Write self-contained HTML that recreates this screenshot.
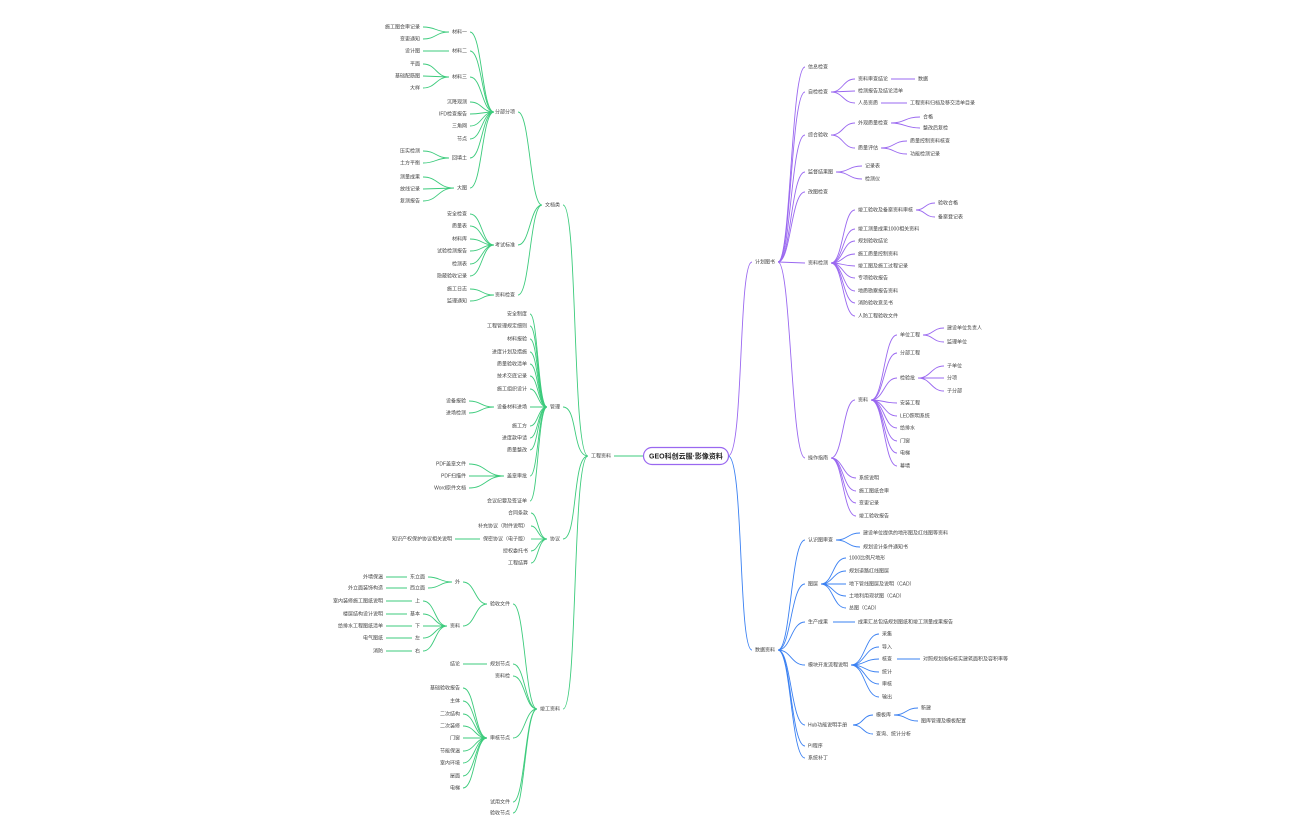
<!DOCTYPE html>
<html><head><meta charset="utf-8"><style>
html,body{margin:0;padding:0;background:#fff;}
svg{display:block}
text{font-family:"Liberation Sans","Noto Sans CJK SC",sans-serif;font-size:5px;fill:#444;dominant-baseline:middle}
.e{text-anchor:end}
.g path{stroke:#3ccb7c;stroke-width:0.9;fill:none}
.p path{stroke:#9a68f0;stroke-width:0.9;fill:none}
.b path{stroke:#3a80f2;stroke-width:0.9;fill:none}
</style></head><body>
<svg width="1296" height="840" viewBox="0 0 1296 840" xmlns="http://www.w3.org/2000/svg">
<!-- LEFT GREEN -->
<g class="g">
<path d="M643 456 L614 456"/>
<path d="M588 456 C572 456 578 205 563 205"/>
<path d="M588 456 C572 456 578 407 563 407"/>
<path d="M588 456 C572 456 578 539 563 539"/>
<path d="M588 456 C572 456 578 709 563 709"/>
<path d="M542 205 C530 205 530 112 518 112"/>
<path d="M542 205 C530 205 530 245 518 245"/>
<path d="M542 205 C530 205 530 295 518 295"/>
<path d="M494 112 C482 112 482 32 470 32"/>
<path d="M494 112 C482 112 482 51 470 51"/>
<path d="M494 112 C482 112 482 77 470 77"/>
<path d="M494 112 C482 112 482 102 470 102"/>
<path d="M494 112 C482 112 482 114 470 114"/>
<path d="M494 112 C482 112 482 126 470 126"/>
<path d="M494 112 C482 112 482 139 470 139"/>
<path d="M494 112 C482 112 482 158 470 158"/>
<path d="M494 112 C482 112 482 188 470 188"/>
<path d="M449 32 C436 32 436 27 423 27"/>
<path d="M449 32 C436 32 436 39 423 39"/>
<path d="M449 51 L423 51"/>
<path d="M449 77 C436 77 436 64 423 64"/>
<path d="M449 77 L423 76"/>
<path d="M449 77 C436 77 436 88 423 88"/>
<path d="M449 158 C436 158 436 151 423 151"/>
<path d="M449 158 C436 158 436 163 423 163"/>
<path d="M454 188 C438 188 438 177 423 177"/>
<path d="M454 188 L423 189"/>
<path d="M454 188 C438 188 438 201 423 201"/>
<path d="M494 245 C482 245 482 214 470 214"/>
<path d="M494 245 C482 245 482 226 470 226"/>
<path d="M494 245 C482 245 482 239 470 239"/>
<path d="M494 245 C482 245 482 251 470 251"/>
<path d="M494 245 C482 245 482 264 470 264"/>
<path d="M494 245 C482 245 482 276 470 276"/>
<path d="M494 295 C482 295 482 289 470 289"/>
<path d="M494 295 C482 295 482 301 470 301"/>
<path d="M547 407 C538 407 538 314 530 314"/>
<path d="M547 407 C538 407 538 326 530 326"/>
<path d="M547 407 C538 407 538 339 530 339"/>
<path d="M547 407 C538 407 538 352 530 352"/>
<path d="M547 407 C538 407 538 364 530 364"/>
<path d="M547 407 C538 407 538 376 530 376"/>
<path d="M547 407 C538 407 538 389 530 389"/>
<path d="M547 407 L530 407"/>
<path d="M547 407 C538 407 538 426 530 426"/>
<path d="M547 407 C538 407 538 438 530 438"/>
<path d="M547 407 C538 407 538 450 530 450"/>
<path d="M547 407 C538 407 538 476 530 476"/>
<path d="M547 407 C538 407 538 501 530 501"/>
<path d="M494 407 C481 407 481 401 469 401"/>
<path d="M494 407 C481 407 481 413 469 413"/>
<path d="M504 476 C486 476 486 464 469 464"/>
<path d="M504 476 L469 476"/>
<path d="M504 476 C486 476 486 488 469 488"/>
<path d="M547 539 C538 539 538 513 531 513"/>
<path d="M547 539 C538 539 538 526 531 526"/>
<path d="M547 539 L531 539"/>
<path d="M547 539 C538 539 538 551 531 551"/>
<path d="M547 539 C538 539 538 563 531 563"/>
<path d="M480 539 L455 539"/>
<path d="M537 709 C525 709 525 604 513 604"/>
<path d="M537 709 C525 709 525 664 513 664"/>
<path d="M537 709 C525 709 525 676 513 676"/>
<path d="M537 709 C525 709 525 738 513 738"/>
<path d="M537 709 C525 709 525 802 513 802"/>
<path d="M537 709 C525 709 525 813 513 813"/>
<path d="M487 604 C475 604 475 582 463 582"/>
<path d="M487 604 C475 604 475 626 463 626"/>
<path d="M452 582 C440 582 440 577 428 577"/>
<path d="M452 582 C440 582 440 588 428 588"/>
<path d="M407 577 L386 577"/><path d="M407 588 L386 588"/>
<path d="M447 626 C435 626 435 601 423 601"/>
<path d="M447 626 C435 626 435 614 423 614"/>
<path d="M447 626 L423 626"/>
<path d="M447 626 C435 626 435 638 423 638"/>
<path d="M447 626 C435 626 435 651 423 651"/>
<path d="M412 601 L386 601"/><path d="M407 614 L386 614"/><path d="M412 626 L386 626"/><path d="M412 638 L386 638"/><path d="M412 651 L386 651"/>
<path d="M487 664 L463 664"/>
<path d="M487 738 C475 738 475 688 463 688"/>
<path d="M487 738 C475 738 475 701 463 701"/>
<path d="M487 738 C475 738 475 714 463 714"/>
<path d="M487 738 C475 738 475 726 463 726"/>
<path d="M487 738 L463 738"/>
<path d="M487 738 C475 738 475 751 463 751"/>
<path d="M487 738 C475 738 475 763 463 763"/>
<path d="M487 738 C475 738 475 776 463 776"/>
<path d="M487 738 C475 738 475 788 463 788"/>
</g>
<g>
<text class="e" x="611" y="456">工程资料</text>
<text class="e" x="560" y="205">文档类</text>
<text class="e" x="560" y="407">管理</text>
<text class="e" x="560" y="539">协议</text>
<text class="e" x="560" y="709">竣工资料</text>
<text class="e" x="515" y="112">分部分项</text>
<text class="e" x="515" y="245">考试标准</text>
<text class="e" x="515" y="295">资料检查</text>
<text class="e" x="467" y="32">材料一</text>
<text class="e" x="467" y="51">材料二</text>
<text class="e" x="467" y="77">材料三</text>
<text class="e" x="467" y="102">沉降观测</text>
<text class="e" x="467" y="114">IFD检查报告</text>
<text class="e" x="467" y="126">三角网</text>
<text class="e" x="467" y="139">节点</text>
<text class="e" x="467" y="158">回填土</text>
<text class="e" x="467" y="188">大图</text>
<text class="e" x="420" y="27">施工图会审记录</text>
<text class="e" x="420" y="39">变更通知</text>
<text class="e" x="420" y="51">设计图</text>
<text class="e" x="420" y="64">平面</text>
<text class="e" x="420" y="76">基础配筋图</text>
<text class="e" x="420" y="88">大样</text>
<text class="e" x="420" y="151">压实检测</text>
<text class="e" x="420" y="163">土方平衡</text>
<text class="e" x="420" y="177">测量成果</text>
<text class="e" x="420" y="189">放线记录</text>
<text class="e" x="420" y="201">复测报告</text>
<text class="e" x="467" y="214">安全检查</text>
<text class="e" x="467" y="226">质量表</text>
<text class="e" x="467" y="239">材料库</text>
<text class="e" x="467" y="251">试验检测报告</text>
<text class="e" x="467" y="264">检测表</text>
<text class="e" x="467" y="276">隐蔽验收记录</text>
<text class="e" x="467" y="289">施工日志</text>
<text class="e" x="467" y="301">监理通知</text>
<text class="e" x="527" y="314">安全制度</text>
<text class="e" x="527" y="326">工程管理规定细则</text>
<text class="e" x="527" y="339">材料报验</text>
<text class="e" x="527" y="352">进度计划及措施</text>
<text class="e" x="527" y="364">质量验收清单</text>
<text class="e" x="527" y="376">技术交底记录</text>
<text class="e" x="527" y="389">施工组织设计</text>
<text class="e" x="527" y="407">设备材料进场</text>
<text class="e" x="527" y="426">施工方</text>
<text class="e" x="527" y="438">进度款申请</text>
<text class="e" x="527" y="450">质量整改</text>
<text class="e" x="527" y="476">盖章审批</text>
<text class="e" x="527" y="501">会议纪要及签证单</text>
<text class="e" x="466" y="401">设备报验</text>
<text class="e" x="466" y="413">进场检测</text>
<text class="e" x="466" y="464">PDF盖章文件</text>
<text class="e" x="466" y="476">PDF扫描件</text>
<text class="e" x="466" y="488">Word原件文档</text>
<text class="e" x="528" y="513">合同条款</text>
<text class="e" x="528" y="526">补充协议（附件说明）</text>
<text class="e" x="528" y="539">保密协议（电子版）</text>
<text class="e" x="528" y="551">授权委托书</text>
<text class="e" x="528" y="563">工程结算</text>
<text class="e" x="452" y="539">知识产权保护协议相关说明</text>
<text class="e" x="510" y="604">验收文件</text>
<text class="e" x="510" y="664">规划节点</text>
<text class="e" x="510" y="676">资料检</text>
<text class="e" x="510" y="738">审核节点</text>
<text class="e" x="510" y="802">试用文件</text>
<text class="e" x="510" y="813">验收节点</text>
<text class="e" x="460" y="582">外</text>
<text class="e" x="460" y="626">资料</text>
<text class="e" x="425" y="577">东立面</text>
<text class="e" x="425" y="588">西立面</text>
<text class="e" x="383" y="577">外墙保温</text>
<text class="e" x="383" y="588">外立面装饰构造</text>
<text class="e" x="420" y="601">上</text>
<text class="e" x="420" y="614">基本</text>
<text class="e" x="420" y="626">下</text>
<text class="e" x="420" y="638">左</text>
<text class="e" x="420" y="651">右</text>
<text class="e" x="383" y="601">室内装修施工图纸说明</text>
<text class="e" x="383" y="614">楼层结构设计说明</text>
<text class="e" x="383" y="626">给排水工程图纸清单</text>
<text class="e" x="383" y="638">电气图纸</text>
<text class="e" x="383" y="651">消防</text>
<text class="e" x="460" y="664">结论</text>
<text class="e" x="460" y="688">基础验收报告</text>
<text class="e" x="460" y="701">主体</text>
<text class="e" x="460" y="714">二次结构</text>
<text class="e" x="460" y="726">二次装修</text>
<text class="e" x="460" y="738">门窗</text>
<text class="e" x="460" y="751">节能保温</text>
<text class="e" x="460" y="763">室内环境</text>
<text class="e" x="460" y="776">屋面</text>
<text class="e" x="460" y="788">电梯</text>
</g>

<!-- RIGHT PURPLE -->
<g class="p">
<path d="M728 456 C744 456 738 262 752 262"/>
<path d="M778 262 C791 262 791 67 805 67"/>
<path d="M778 262 C791 262 791 92 805 92"/>
<path d="M778 262 C791 262 791 135 805 135"/>
<path d="M778 262 C791 262 791 172 805 172"/>
<path d="M778 262 C791 262 791 192 805 192"/>
<path d="M778 262 L805 263"/>
<path d="M778 262 C791 262 791 458 805 458"/>
<path d="M831 92 C843 92 843 79 855 79"/>
<path d="M831 92 L855 91"/>
<path d="M831 92 C843 92 843 103 855 103"/>
<path d="M891 79 L915 79"/>
<path d="M881 103 L907 103"/>
<path d="M831 135 C843 135 843 123 855 123"/>
<path d="M831 135 C843 135 843 148 855 148"/>
<path d="M891 123 C905 123 905 117 920 117"/>
<path d="M891 123 C905 123 905 128 920 128"/>
<path d="M881 148 C894 148 894 141 907 141"/>
<path d="M881 148 C894 148 894 154 907 154"/>
<path d="M836 172 C849 172 849 166 862 166"/>
<path d="M836 172 C849 172 849 179 862 179"/>
<path d="M831 263 C843 263 843 210 855 210"/>
<path d="M831 263 C843 263 843 229 855 229"/>
<path d="M831 263 C843 263 843 241 855 241"/>
<path d="M831 263 C843 263 843 254 855 254"/>
<path d="M831 263 C843 263 843 266 855 266"/>
<path d="M831 263 C843 263 843 278 855 278"/>
<path d="M831 263 C843 263 843 291 855 291"/>
<path d="M831 263 C843 263 843 303 855 303"/>
<path d="M831 263 C843 263 843 316 855 316"/>
<path d="M916 210 C925 210 925 203 935 203"/>
<path d="M916 210 C925 210 925 217 935 217"/>
<path d="M831 458 C843 458 843 400 855 400"/>
<path d="M831 458 C843 458 843 478 856 478"/>
<path d="M831 458 C843 458 843 491 856 491"/>
<path d="M831 458 C843 458 843 503 856 503"/>
<path d="M831 458 C843 458 843 516 856 516"/>
<path d="M871 400 C884 400 884 335 897 335"/>
<path d="M871 400 C884 400 884 353 897 353"/>
<path d="M871 400 C884 400 884 378 897 378"/>
<path d="M871 400 C884 400 884 403 897 403"/>
<path d="M871 400 C884 400 884 416 897 416"/>
<path d="M871 400 C884 400 884 428 897 428"/>
<path d="M871 400 C884 400 884 441 897 441"/>
<path d="M871 400 C884 400 884 453 897 453"/>
<path d="M871 400 C884 400 884 466 897 466"/>
<path d="M923 335 C933 335 933 328 944 328"/>
<path d="M923 335 C933 335 933 342 944 342"/>
<path d="M918 378 C931 378 931 366 944 366"/>
<path d="M918 378 L944 378"/>
<path d="M918 378 C931 378 931 391 944 391"/>
</g>
<g>
<text x="755" y="262">计划图书</text>
<text x="808" y="67">信息检查</text>
<text x="808" y="92">自检检查</text>
<text x="808" y="135">综合验收</text>
<text x="808" y="172">监督结果图</text>
<text x="808" y="192">改图检查</text>
<text x="808" y="263">资料检测</text>
<text x="808" y="458">操作指南</text>
<text x="858" y="79">资料审查结论</text>
<text x="858" y="91">检测报告及结论清单</text>
<text x="858" y="103">人员资质</text>
<text x="918" y="79">数据</text>
<text x="910" y="103">工程资料归档及移交清单目录</text>
<text x="858" y="123">外观质量检查</text>
<text x="858" y="148">质量评估</text>
<text x="923" y="117">合格</text>
<text x="923" y="128">整改后复检</text>
<text x="910" y="141">质量控制资料核查</text>
<text x="910" y="154">功能检测记录</text>
<text x="865" y="166">记录表</text>
<text x="865" y="179">检测仪</text>
<text x="858" y="210">竣工验收及备案资料审核</text>
<text x="858" y="229">竣工测量成果1000相关资料</text>
<text x="858" y="241">规划验收结论</text>
<text x="858" y="254">施工质量控制资料</text>
<text x="858" y="266">竣工图及施工过程记录</text>
<text x="858" y="278">专项验收报告</text>
<text x="858" y="291">地质勘察报告资料</text>
<text x="858" y="303">消防验收意见书</text>
<text x="858" y="316">人防工程验收文件</text>
<text x="938" y="203">验收合格</text>
<text x="938" y="217">备案登记表</text>
<text x="858" y="400">资料</text>
<text x="900" y="335">单位工程</text>
<text x="900" y="353">分部工程</text>
<text x="900" y="378">检验批</text>
<text x="900" y="403">安装工程</text>
<text x="900" y="416">LED照明系统</text>
<text x="900" y="428">给排水</text>
<text x="900" y="441">门窗</text>
<text x="900" y="453">电梯</text>
<text x="900" y="466">幕墙</text>
<text x="947" y="328">建设单位负责人</text>
<text x="947" y="342">监理单位</text>
<text x="947" y="366">子单位</text>
<text x="947" y="378">分项</text>
<text x="947" y="391">子分部</text>
<text x="859" y="478">系统说明</text>
<text x="859" y="491">施工图纸会审</text>
<text x="859" y="503">变更记录</text>
<text x="859" y="516">竣工验收报告</text>
</g>

<!-- RIGHT BLUE -->
<g class="b">
<path d="M728 456 C744 456 738 650 752 650"/>
<path d="M778 650 C791 650 791 540 805 540"/>
<path d="M778 650 C791 650 791 584 805 584"/>
<path d="M778 650 C791 650 791 622 805 622"/>
<path d="M778 650 C791 650 791 665 805 665"/>
<path d="M778 650 C791 650 791 725 805 725"/>
<path d="M778 650 C791 650 791 746 805 746"/>
<path d="M778 650 C791 650 791 758 805 758"/>
<path d="M836 540 C848 540 848 533 860 533"/>
<path d="M836 540 C848 540 848 547 860 547"/>
<path d="M821 584 C833 584 833 558 846 558"/>
<path d="M821 584 C833 584 833 571 846 571"/>
<path d="M821 584 L846 584"/>
<path d="M821 584 C833 584 833 596 846 596"/>
<path d="M821 584 C833 584 833 608 846 608"/>
<path d="M833 622 L855 622"/>
<path d="M851 665 C865 665 865 634 879 634"/>
<path d="M851 665 C865 665 865 647 879 647"/>
<path d="M851 665 C865 665 865 659 879 659"/>
<path d="M851 665 C865 665 865 672 879 672"/>
<path d="M851 665 C865 665 865 684 879 684"/>
<path d="M851 665 C865 665 865 697 879 697"/>
<path d="M897 659 L920 659"/>
<path d="M853 725 C863 725 863 715 873 715"/>
<path d="M853 725 C863 725 863 734 873 734"/>
<path d="M894 715 C906 715 906 708 918 708"/>
<path d="M894 715 C906 715 906 721 918 721"/>
</g>
<g>
<text x="755" y="650">数据资料</text>
<text x="808" y="540">认识图审查</text>
<text x="808" y="584">图层</text>
<text x="808" y="622">生产成果</text>
<text x="808" y="665">模块开发流程说明</text>
<text x="808" y="725">Hub功能说明手册</text>
<text x="808" y="746">PI程序</text>
<text x="808" y="758">系统补丁</text>
<text x="863" y="533">建设单位提供的地形图及红线图等资料</text>
<text x="863" y="547">规划设计条件通知书</text>
<text x="849" y="558">1000比例尺地形</text>
<text x="849" y="571">规划道路红线图层</text>
<text x="849" y="584">地下管线图层及说明（CAD）</text>
<text x="849" y="596">土地利用现状图（CAD）</text>
<text x="849" y="608">总图（CAD）</text>
<text x="858" y="622">成果汇总包括规划图纸和竣工测量成果报告</text>
<text x="882" y="634">采集</text>
<text x="882" y="647">导入</text>
<text x="882" y="659">核查</text>
<text x="882" y="672">统计</text>
<text x="882" y="684">审核</text>
<text x="882" y="697">输出</text>
<text x="923" y="659">对照规划指标核实建筑面积及容积率等</text>
<text x="876" y="715">模板库</text>
<text x="876" y="734">查询、统计分析</text>
<text x="921" y="708">新建</text>
<text x="921" y="721">图库管理及模板配置</text>
</g>

<!-- CENTER -->
<rect x="643.5" y="447.5" width="85" height="17" rx="8.5" fill="#fff" stroke="#9a68f0" stroke-width="1.2"/>
<text x="686" y="456.5" style="text-anchor:middle;font-size:7px;font-weight:bold;fill:#222">GEO科创云服·影像资料</text>
</svg>
</body></html>
